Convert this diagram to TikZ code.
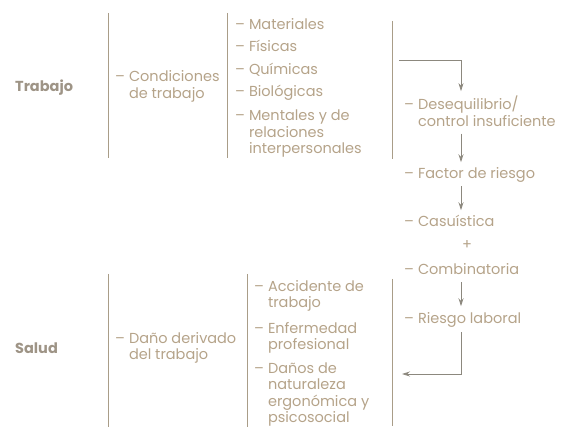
\documentclass[tikz,border=0pt]{standalone}
\usepackage{fontspec}
\setmainfont{Poppins}
\usetikzlibrary{arrows.meta}

\definecolor{beige}{HTML}{B5A389}
\definecolor{taupe}{HTML}{9E9486}
\definecolor{rulecol}{HTML}{A99D88}
\definecolor{arrowcol}{HTML}{8C887E}

\newcommand{\guion}[1]{\begin{tabular}[t]{@{}l@{\hspace{4pt}}l@{}}--&\begin{tabular}[t]{@{}l@{}}#1\end{tabular}\end{tabular}}

\tikzset{
  item/.style={anchor=base west, inner sep=0pt, text=beige, font=\fontsize{14.5}{16.5}\selectfont},
  head/.style={anchor=base west, inner sep=0pt, text=taupe, font=\fontsize{14.5}{16.5}\selectfont\bfseries},
  sep/.style={draw=rulecol, line width=0.8pt},
  flow/.style={draw=arrowcol, line width=0.8pt, -{Stealth[length=8pt,width=5pt]}, shorten <=2pt, shorten >=5pt}
}

\begin{document}
\begin{tikzpicture}[x=1pt,y=-1pt]
\useasboundingbox (0,0) rectangle (570,438);

% Rules
\draw[sep] (108,13) -- (108,158);
\draw[sep] (227,13) -- (227,158);
\draw[sep] (392,21) -- (392,159);
\draw[sep] (108,274) -- (108,427);
\draw[sep] (247,274) -- (247,427);
\draw[sep] (392,279) -- (392,426);

% Trabajo
\node[head] (trabajo) at (15,92) {Trabajo};
\node[item] (cond) at (115,82) {\guion{Condiciones\\de trabajo}};
\node[item] (mat) at (235,30) {\guion{Materiales}};
\node[item] (fis) at (235,52) {\guion{Físicas}};
\node[item] (qui) at (235,75) {\guion{Químicas}};
\node[item] (bio) at (235,97) {\guion{Biológicas}};
\node[item] (ment) at (235,121) {\guion{Mentales y de\\relaciones\\interpersonales}};

% Chain
\node[item] (deseq) at (404,110) {\guion{Desequilibrio/\\control insuficiente}};
\node[item] (factor) at (404,179) {\guion{Factor de riesgo}};
\node[item] (casu) at (404,227) {\guion{Casuística}};
\node[item] (plus) at (462,250) {+};
\node[item] (comb) at (404,275) {\guion{Combinatoria}};
\node[item] (riesgo) at (404,323) {\guion{Riesgo laboral}};

% Salud
\node[head] (salud) at (15,353) {Salud};
\node[item] (dano) at (115,343) {\guion{Daño derivado\\del trabajo}};
\node[item] (acc) at (254,291) {\guion{Accidente de\\trabajo}};
\node[item] (enf) at (254,333) {\guion{Enfermedad\\profesional}};
\node[item] (ergo) at (254,373) {\guion{Daños de\\naturaleza\\ergonómica y\\psicosocial}};

% Arrows
\coordinate (axis) at (461,0);
\coordinate (start) at (399,60);
\coordinate (back) at (397,374);
\draw[flow, shorten <=0pt] (start) -| (deseq.north -| axis);
\draw[flow] (deseq.south -| axis) -- (factor.north -| axis);
\draw[flow] (factor.south -| axis) -- (casu.north -| axis);
\draw[flow] (comb.south -| axis) -- (riesgo.north -| axis);
\draw[flow, shorten <=4pt] (riesgo.south -| axis) |- (back);

\end{tikzpicture}
\end{document}
